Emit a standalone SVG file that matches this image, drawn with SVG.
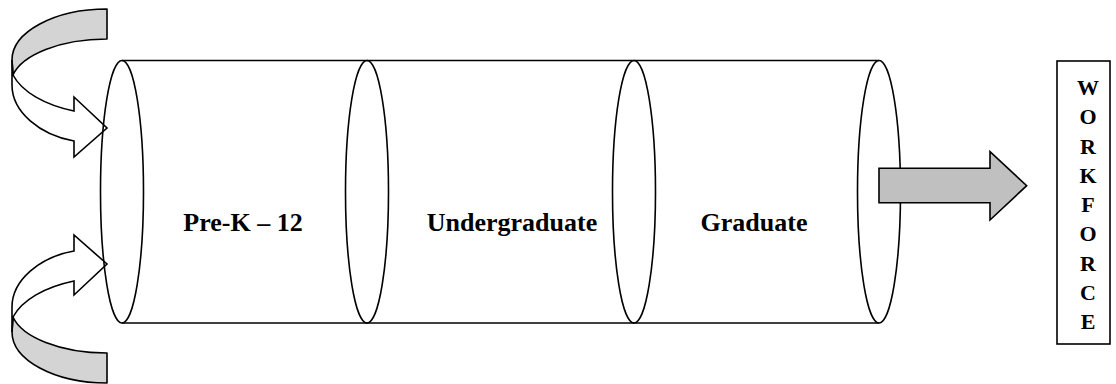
<svg xmlns="http://www.w3.org/2000/svg" width="1116" height="384" viewBox="0 0 1116 384">
<style>
.ln{fill:none;stroke:#000;stroke-width:1.6}
.band{fill:#d4d4d4;stroke:#000;stroke-width:1.6;stroke-linejoin:round}
.wb{fill:#fff;stroke:#000;stroke-width:1.6;stroke-linejoin:miter}
.lbl{font-family:"Liberation Serif","Times New Roman",serif;font-weight:bold;font-size:26px;fill:#000;text-anchor:middle}
.wf{font-family:"Liberation Serif","Times New Roman",serif;font-weight:bold;font-size:22px;fill:#000;text-anchor:middle}
</style>
<defs>
<g id="curvedArrow">
<path class="band" d="M107,9 C54.5,9 12,32 12,60 L13,75 C22,55 60,39 107,39 Z"/>
<path class="wb" d="M13,75 C22,92 45,105 74,111 L74,97 L107,128 L74,157 L74,141 C40,135 12,112 12,85 L12,60 Z"/>
</g>
</defs>
<g id="arrow-in-top">
<use href="#curvedArrow"/>
</g>
<g id="arrow-in-bottom">
<use href="#curvedArrow" transform="translate(0,392) scale(1,-1)"/>
</g>
<g id="pipeline">
<line class="ln" x1="122" y1="60.5" x2="879" y2="60.5"/>
<line class="ln" x1="122" y1="323" x2="879" y2="323"/>
<ellipse class="ln" cx="122" cy="191.75" rx="21.5" ry="131.25"/>
<ellipse class="ln" cx="367" cy="191.75" rx="21.5" ry="131.25"/>
<ellipse class="ln" cx="634" cy="191.75" rx="21.5" ry="131.25"/>
<ellipse class="ln" cx="879" cy="191.75" rx="21.5" ry="131.25"/>
</g>
<g id="stage-prek12"><text class="lbl" x="243" y="231">Pre-K – 12</text></g>
<g id="stage-undergraduate"><text class="lbl" x="512" y="231">Undergraduate</text></g>
<g id="stage-graduate"><text class="lbl" x="754" y="231">Graduate</text></g>
<g id="connectors">
<path d="M879,168.3 L990,168.3 L990,151.7 L1026.7,185.7 L990,220 L990,202.7 L879,202.7 Z" fill="#c0c0c0" stroke="#000" stroke-width="1.6"/>
</g>
<g id="workforce">
<rect x="1057" y="61" width="53" height="283" fill="#fff" stroke="#000" stroke-width="1.6"/>
<text class="wf" x="1088" y="95">W</text>
<text class="wf" x="1088" y="124.25">O</text>
<text class="wf" x="1088" y="153.5">R</text>
<text class="wf" x="1088" y="182.75">K</text>
<text class="wf" x="1088" y="212">F</text>
<text class="wf" x="1088" y="241.25">O</text>
<text class="wf" x="1088" y="270.5">R</text>
<text class="wf" x="1088" y="299.75">C</text>
<text class="wf" x="1088" y="329">E</text>
</g>
</svg>
